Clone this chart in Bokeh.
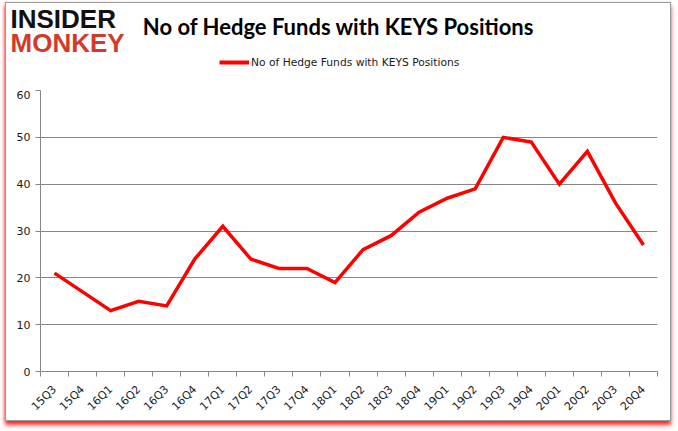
import math
from bokeh.plotting import figure
from bokeh.layouts import column, row
from bokeh.models import (Range1d, FixedTicker, Label, Legend, LegendItem, ColumnDataSource)
from bokeh.embed import file_html
from bokeh.resources import INLINE

quarters = ["15Q3", "15Q4", "16Q1", "16Q2", "16Q3", "16Q4", "17Q1", "17Q2", "17Q3", "17Q4",
            "18Q1", "18Q2", "18Q3", "18Q4", "19Q1", "19Q2", "19Q3", "19Q4", "20Q1", "20Q2",
            "20Q3", "20Q4"]
funds = [21, 17, 13, 15, 14, 24, 31, 24, 22, 22, 19, 26, 29, 34, 37, 39, 50, 49, 40, 47, 36, 27]
y_ticks = [0, 10, 20, 30, 40, 50, 60]
title_text = "No of Hedge Funds with KEYS Positions"
series_name = "No of Hedge Funds with KEYS Positions"

LINE_COLOR = "#ff0000"
W = 664
HEAD_H = 87
MAIN_H = 330

n = len(quarters)
centers = [i + 0.5 for i in range(n)]
bounds = list(range(n + 1))

src = ColumnDataSource(dict(x=centers, y=funds, q=quarters))

# ---------- header (logo, title, legend) ----------
h = figure(width=W, height=HEAD_H, output_backend="svg", toolbar_location=None,
           x_range=Range1d(0, W), y_range=Range1d(0, HEAD_H),
           x_axis_location=None, y_axis_location=None,
           min_border=0, min_border_left=0, min_border_right=0,
           min_border_top=0, min_border_bottom=0)
h.outline_line_color = None
h.xgrid.visible = False
h.ygrid.visible = False
h.background_fill_color = "white"
h.border_fill_color = "white"

h.add_layout(Label(x=332, y=64, text=title_text,
                   text_align="center", text_baseline="middle", text_font="Lato",
                   text_font_style="bold", text_font_size="22px", text_color="#000000"))
h.add_layout(Label(x=4, y=72, text="INSIDER",
                   text_align="left", text_baseline="middle", text_font="Liberation Sans",
                   text_font_style="bold", text_font_size="26px", text_color="#111111"))
h.add_layout(Label(x=4, y=48, text="MONKEY",
                   text_align="left", text_baseline="middle", text_font="Liberation Sans",
                   text_font_style="bold", text_font_size="26px", text_color="#d23b2b"))

# legend proxy (hidden copy of the series, only used for the legend swatch)
proxy = h.line("x", "y", source=src, line_color=LINE_COLOR, line_width=4, visible=False)
legend = Legend(items=[LegendItem(label=series_name, renderers=[proxy])],
                location=(213, 21), orientation="horizontal",
                border_line_color=None, background_fill_alpha=0,
                inactive_fill_alpha=0,
                padding=0, margin=0, spacing=0, glyph_width=30, glyph_height=14,
                label_standoff=2, label_text_font="DejaVu Sans",
                label_text_font_size="10.7px", label_text_color="#1a1a1a")
h.add_layout(legend)

# ---------- main chart ----------
p = figure(width=W, height=MAIN_H, output_backend="svg", toolbar_location=None,
           x_range=Range1d(0, n), y_range=Range1d(0, 60),
           min_border_left=34, min_border_right=13, min_border_top=0, min_border_bottom=49)
p.outline_line_color = None
p.background_fill_color = "white"
p.border_fill_color = "white"

p.line("x", "y", source=src, line_color=LINE_COLOR, line_width=3.5, line_join="miter")

p.xaxis.ticker = FixedTicker(ticks=centers, minor_ticks=bounds)
p.xaxis.major_label_overrides = {c: q for c, q in zip(centers, quarters)}
p.xaxis.major_label_orientation = math.pi / 4
p.xaxis.major_tick_out = 0
p.xaxis.major_tick_in = 0
p.xaxis.minor_tick_out = 5
p.xaxis.minor_tick_in = 0
p.xaxis.minor_tick_line_color = "#868686"
p.xaxis.axis_line_color = "#868686"
p.xaxis.major_label_text_font = "DejaVu Sans"
p.xaxis.major_label_text_font_size = "11px"
p.xaxis.major_label_text_color = "#1a1a1a"
p.xaxis.major_label_standoff = 11

p.yaxis.ticker = FixedTicker(ticks=y_ticks)
p.yaxis.major_tick_out = 5
p.yaxis.major_tick_in = 0
p.yaxis.minor_tick_line_color = None
p.yaxis.major_tick_line_color = "#868686"
p.yaxis.axis_line_color = "#868686"
p.yaxis.major_label_text_font = "DejaVu Sans"
p.yaxis.major_label_text_font_size = "11px"
p.yaxis.major_label_text_color = "#1a1a1a"
p.yaxis.major_label_standoff = 5

p.xgrid.grid_line_color = None
p.ygrid.ticker = FixedTicker(ticks=y_ticks)
p.ygrid.grid_line_color = "#868686"
p.ygrid.grid_line_width = 1

layout = column(row(h, spacing=0), row(p, spacing=0), spacing=0)
layout.styles = {"margin-left": "5px", "margin-top": "2px", "border": "1px solid #9a9a9a",
                 "box-shadow": "0px 4px 4px rgba(255,0,0,0.85), -1px 0px 2px rgba(255,150,150,0.5)"}

open("out.html", "w").write(file_html(layout, INLINE))
